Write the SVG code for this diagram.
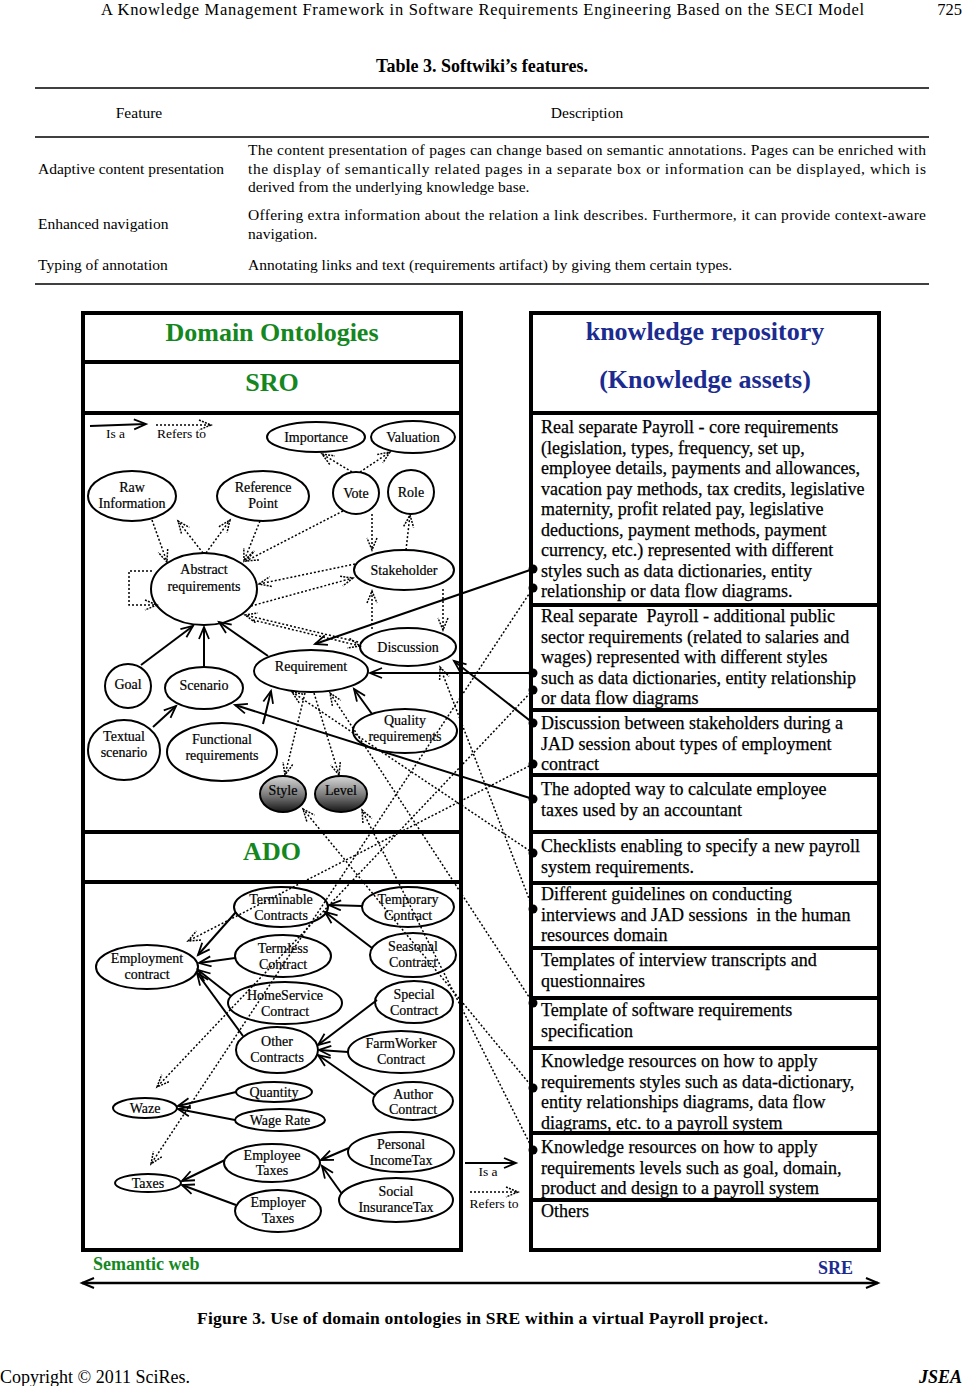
<svg xmlns="http://www.w3.org/2000/svg" width="964" height="1386" viewBox="0 0 964 1386">
<style>
text{font-family:"Liberation Serif","Times New Roman",serif;fill:#000}
.hd{font-size:16.5px}
.tb{font-size:15.5px}
.ttl{font-size:18px;font-weight:bold}
.n ellipse{fill:#fff;stroke:#000;stroke-width:2}
.n text{font-size:14px;text-anchor:middle;stroke:#000;stroke-width:0.2}
.g ellipse{fill:url(#gr);stroke:#000;stroke-width:2}
.g text{font-size:14px;text-anchor:middle;stroke:#000;stroke-width:0.2}
.box{fill:#fff;stroke:#000;stroke-width:4}
.sep{stroke:#000;stroke-width:4}
.gh{font-size:26px;font-weight:bold;fill:#14871e;text-anchor:middle}
.bh{font-size:26px;font-weight:bold;fill:#1b2b8f;text-anchor:middle}
.gs{font-size:18px;font-weight:bold;fill:#14871e}
.bs{font-size:18px;font-weight:bold;fill:#1b2b8f}
.r{font-size:18px;stroke:#000;stroke-width:0.25}
.s{stroke:#000;stroke-width:2;fill:none;marker-end:url(#a)}
.d{stroke:#000;stroke-width:1.5;fill:none;stroke-dasharray:2 2;marker-end:url(#ad)}
.dot{fill:#000}
.lg{font-size:13.5px}
.cap{font-size:17.5px;font-weight:bold}
.ft{font-size:18px}
</style>
<defs>
<linearGradient id="gr" x1="0" y1="0" x2="0" y2="1">
<stop offset="0" stop-color="#d8d8d8"/>
<stop offset="0.55" stop-color="#777"/>
<stop offset="1" stop-color="#151515"/>
</linearGradient>
<marker id="a" markerUnits="userSpaceOnUse" markerWidth="16" markerHeight="14" refX="13" refY="6" orient="auto">
<path d="M1,1 L13,6 L1,11" fill="none" stroke="#000" stroke-width="1.8"/>
</marker>
<marker id="ad" markerUnits="userSpaceOnUse" markerWidth="16" markerHeight="14" refX="13" refY="6" orient="auto">
<path d="M1,1 L13,6 L1,11" fill="none" stroke="#000" stroke-width="1.5" stroke-dasharray="2 1.2"/>
</marker>
<marker id="ab" markerUnits="userSpaceOnUse" markerWidth="16" markerHeight="14" refX="13" refY="6" orient="auto-start-reverse">
<path d="M1,1 L13,6 L1,11" fill="none" stroke="#000" stroke-width="2"/>
</marker>
</defs>
<rect width="964" height="1386" fill="#fff"/>

<!-- page header and table -->
<g id="page-header">
<text class="hd" x="101" y="15" textLength="763">A Knowledge Management Framework in Software Requirements Engineering Based on the SECI Model</text>
<text class="hd" x="962" y="15" text-anchor="end">725</text>
</g>
<g id="table">
<text class="ttl" x="482" y="72" text-anchor="middle">Table 3. Softwiki’s features.</text>
<line x1="35" y1="88" x2="929" y2="88" stroke="#000" stroke-width="1.3"/>
<text class="tb" x="139" y="118" text-anchor="middle">Feature</text>
<text class="tb" x="587" y="118" text-anchor="middle">Description</text>
<line x1="35" y1="137" x2="929" y2="137" stroke="#000" stroke-width="1.3"/>
<text class="tb" x="38" y="174">Adaptive content presentation</text>
<text class="tb" x="248" y="155" textLength="678">The content presentation of pages can change based on semantic annotations. Pages can be enriched with</text>
<text class="tb" x="248" y="174" textLength="678">the display of semantically related pages in a separate box or information can be displayed, which is</text>
<text class="tb" x="248" y="192">derived from the underlying knowledge base.</text>
<text class="tb" x="38" y="229">Enhanced navigation</text>
<text class="tb" x="248" y="220" textLength="678">Offering extra information about the relation a link describes. Furthermore, it can provide context-aware</text>
<text class="tb" x="248" y="239">navigation.</text>
<text class="tb" x="38" y="270">Typing of annotation</text>
<text class="tb" x="248" y="270">Annotating links and text (requirements artifact) by giving them certain types.</text>
<line x1="35" y1="284" x2="929" y2="284" stroke="#000" stroke-width="1.3"/>
</g>

<!-- left panel -->
<g id="left-panel">
<rect class="box" x="83" y="313" width="378" height="937"/>
<line class="sep" x1="83" y1="362" x2="461" y2="362"/>
<line class="sep" x1="83" y1="413" x2="461" y2="413"/>
<line class="sep" x1="83" y1="832" x2="461" y2="832"/>
<line class="sep" x1="83" y1="882" x2="461" y2="882"/>
<text class="gh" x="272" y="341">Domain Ontologies</text>
<text class="gh" x="272" y="391">SRO</text>
<text class="gh" x="272" y="860">ADO</text>
</g>

<!-- right panel -->
<g id="right-panel">
<rect class="box" x="531" y="313" width="348" height="937"/>
<line class="sep" x1="531" y1="413" x2="879" y2="413"/>
<line class="sep" x1="531" y1="605" x2="879" y2="605"/>
<line class="sep" x1="531" y1="710" x2="879" y2="710"/>
<line class="sep" x1="531" y1="775" x2="879" y2="775"/>
<line class="sep" x1="531" y1="832" x2="879" y2="832"/>
<line class="sep" x1="531" y1="883" x2="879" y2="883"/>
<line class="sep" x1="531" y1="948" x2="879" y2="948"/>
<line class="sep" x1="531" y1="998" x2="879" y2="998"/>
<line class="sep" x1="531" y1="1048" x2="879" y2="1048"/>
<line class="sep" x1="531" y1="1133" x2="879" y2="1133"/>
<line class="sep" x1="531" y1="1200" x2="879" y2="1200"/>
<text class="bh" x="705" y="340">knowledge repository</text>
<text class="bh" x="705" y="388">(Knowledge assets)</text>
</g>
<g id="kr-core">
<text class="r" x="541" y="433">Real separate Payroll - core requirements<tspan x="541" dy="20.5">(legislation, types, frequency, set up,</tspan><tspan x="541" dy="20.5">employee details, payments and allowances,</tspan><tspan x="541" dy="20.5">vacation pay methods, tax credits, legislative</tspan><tspan x="541" dy="20.5">maternity, profit related pay, legislative</tspan><tspan x="541" dy="20.5">deductions, payment methods, payment</tspan><tspan x="541" dy="20.5">currency, etc.) represented with different</tspan><tspan x="541" dy="20.5">styles such as data dictionaries, entity</tspan><tspan x="541" dy="20.5">relationship or data flow diagrams.</tspan></text>
</g>
<g id="kr-public">
<text class="r" x="541" y="622">Real separate &#160;Payroll - additional public<tspan x="541" dy="20.5">sector requirements (related to salaries and</tspan><tspan x="541" dy="20.5">wages) represented with different styles</tspan><tspan x="541" dy="20.5">such as data dictionaries, entity relationship</tspan><tspan x="541" dy="20.5">or data flow diagrams</tspan></text>
</g>
<g id="kr-discussion">
<text class="r" x="541" y="729">Discussion between stakeholders during a<tspan x="541" dy="20.5">JAD session about types of employment</tspan><tspan x="541" dy="20.5">contract</tspan></text>
</g>
<g id="kr-taxes">
<text class="r" x="541" y="795">The adopted way to calculate employee<tspan x="541" dy="20.5">taxes used by an accountant</tspan></text>
</g>
<g id="kr-checklists">
<text class="r" x="541" y="852">Checklists enabling to specify a new payroll<tspan x="541" dy="20.5">system requirements.</tspan></text>
</g>
<g id="kr-guidelines">
<text class="r" x="541" y="900">Different guidelines on conducting<tspan x="541" dy="20.5">interviews and JAD sessions &#160;in the human</tspan><tspan x="541" dy="20.5">resources domain</tspan></text>
</g>
<g id="kr-templates">
<text class="r" x="541" y="966">Templates of interview transcripts and<tspan x="541" dy="20.5">questionnaires</tspan></text>
</g>
<g id="kr-srs">
<text class="r" x="541" y="1016">Template of software requirements<tspan x="541" dy="20.5">specification</tspan></text>
</g>
<g id="kr-styles">
<text class="r" x="541" y="1067">Knowledge resources on how to apply<tspan x="541" dy="20.5">requirements styles such as data-dictionary,</tspan><tspan x="541" dy="20.5">entity relationships diagrams, data flow</tspan><tspan x="541" dy="20.5">diagrams, etc. to a payroll system</tspan></text>
</g>
<g id="kr-levels">
<text class="r" x="541" y="1153">Knowledge resources on how to apply<tspan x="541" dy="20.5">requirements levels such as goal, domain,</tspan><tspan x="541" dy="20.5">product and design to a payroll system</tspan></text>
</g>
<g id="kr-others">
<text class="r" x="541" y="1217">Others</text>
</g>

<!-- SRO nodes -->
<g id="importance" class="n"><ellipse cx="316" cy="437" rx="49" ry="15"/><text x="316" y="442">Importance</text></g>
<g id="valuation" class="n"><ellipse cx="413" cy="437" rx="42" ry="16"/><text x="413" y="442">Valuation</text></g>
<g id="raw-information" class="n"><ellipse cx="132" cy="496" rx="44" ry="25"/><text x="132" y="492">Raw</text><text x="132" y="508">Information</text></g>
<g id="reference-point" class="n"><ellipse cx="263" cy="496" rx="46" ry="25"/><text x="263" y="492">Reference</text><text x="263" y="508">Point</text></g>
<g id="vote" class="n"><ellipse cx="356" cy="493" rx="23" ry="21"/><text x="356" y="498">Vote</text></g>
<g id="role" class="n"><ellipse cx="411" cy="492" rx="23" ry="22"/><text x="411" y="497">Role</text></g>
<g id="abstract-requirements" class="n"><ellipse cx="204" cy="589" rx="53" ry="36"/><text x="204" y="574">Abstract</text><text x="204" y="591">requirements</text></g>
<g id="stakeholder" class="n"><ellipse cx="404" cy="570" rx="50" ry="20"/><text x="404" y="575">Stakeholder</text></g>
<g id="discussion" class="n"><ellipse cx="408" cy="647" rx="48" ry="19"/><text x="408" y="652">Discussion</text></g>
<g id="requirement" class="n"><ellipse cx="311" cy="671" rx="57" ry="21"/><text x="311" y="671">Requirement</text></g>
<g id="goal" class="n"><ellipse cx="128" cy="686" rx="23" ry="22"/><text x="128" y="689">Goal</text></g>
<g id="scenario" class="n"><ellipse cx="204" cy="688" rx="39" ry="21"/><text x="204" y="690">Scenario</text></g>
<g id="textual-scenario" class="n"><ellipse cx="124" cy="750" rx="36" ry="30"/><text x="124" y="741">Textual</text><text x="124" y="757">scenario</text></g>
<g id="functional-requirements" class="n"><ellipse cx="222" cy="752" rx="55" ry="29"/><text x="222" y="744">Functional</text><text x="222" y="760">requirements</text></g>
<g id="quality-requirements" class="n"><ellipse cx="405" cy="731" rx="52" ry="22"/><text x="405" y="725">Quality</text><text x="405" y="741">requirements</text></g>
<g id="style" class="g"><ellipse cx="283" cy="794" rx="23" ry="18"/><text x="283" y="795">Style</text></g>
<g id="level" class="g"><ellipse cx="341" cy="794" rx="26" ry="18"/><text x="341" y="795">Level</text></g>

<!-- ADO nodes -->
<g id="employment-contract" class="n"><ellipse cx="147" cy="967" rx="51" ry="22"/><text x="147" y="963">Employment</text><text x="147" y="979">contract</text></g>
<g id="terminable-contracts" class="n"><ellipse cx="281" cy="907" rx="47" ry="20"/><text x="281" y="904">Terminable</text><text x="281" y="920">Contracts</text></g>
<g id="temporary-contract" class="n"><ellipse cx="408" cy="907" rx="46" ry="20"/><text x="408" y="904">Temporary</text><text x="408" y="920">Contract</text></g>
<g id="termless-contract" class="n"><ellipse cx="283" cy="956" rx="48" ry="21"/><text x="283" y="953">Termless</text><text x="283" y="969">Contract</text></g>
<g id="seasonal-contract" class="n"><ellipse cx="413" cy="955" rx="43" ry="22"/><text x="413" y="951">Seasonal</text><text x="413" y="967">Contract</text></g>
<g id="homeservice-contract" class="n"><ellipse cx="285" cy="1003" rx="57" ry="21"/><text x="285" y="1000">HomeService</text><text x="285" y="1016">Contract</text></g>
<g id="special-contract" class="n"><ellipse cx="414" cy="1002" rx="39" ry="21"/><text x="414" y="999">Special</text><text x="414" y="1015">Contract</text></g>
<g id="other-contracts" class="n"><ellipse cx="277" cy="1050" rx="41" ry="23"/><text x="277" y="1046">Other</text><text x="277" y="1062">Contracts</text></g>
<g id="farmworker-contract" class="n"><ellipse cx="401" cy="1052" rx="53" ry="21"/><text x="401" y="1048">FarmWorker</text><text x="401" y="1064">Contract</text></g>
<g id="author-contract" class="n"><ellipse cx="413" cy="1101" rx="40" ry="19"/><text x="413" y="1099">Author</text><text x="413" y="1114">Contract</text></g>
<g id="quantity" class="n"><ellipse cx="274" cy="1092" rx="38" ry="10"/><text x="274" y="1097">Quantity</text></g>
<g id="wage-rate" class="n"><ellipse cx="280" cy="1120" rx="45" ry="11"/><text x="280" y="1125">Wage Rate</text></g>
<g id="wage" class="n"><ellipse cx="145" cy="1108" rx="32" ry="10"/><text x="145" y="1113">Waze</text></g>
<g id="employee-taxes" class="n"><ellipse cx="272" cy="1163" rx="48" ry="19"/><text x="272" y="1160">Employee</text><text x="272" y="1175">Taxes</text></g>
<g id="personal-incometax" class="n"><ellipse cx="401" cy="1152" rx="53" ry="20"/><text x="401" y="1149">Personal</text><text x="401" y="1165">IncomeTax</text></g>
<g id="taxes" class="n"><ellipse cx="148" cy="1183" rx="33" ry="9"/><text x="148" y="1188">Taxes</text></g>
<g id="employer-taxes" class="n"><ellipse cx="278" cy="1211" rx="43" ry="21"/><text x="278" y="1207">Employer</text><text x="278" y="1223">Taxes</text></g>
<g id="social-insurancetax" class="n"><ellipse cx="396" cy="1200" rx="57" ry="22"/><text x="396" y="1196">Social</text><text x="396" y="1212">InsuranceTax</text></g>

<!-- legends -->
<g id="legend-sro">
<line class="s" x1="90" y1="426" x2="146" y2="424"/>
<line class="d" x1="156" y1="425" x2="211" y2="425"/>
<text class="lg" x="106" y="438">Is a</text>
<text class="lg" x="157" y="438">Refers to</text>
</g>
<g id="legend-ado">
<line class="s" x1="465" y1="1163" x2="516" y2="1163"/>
<line class="d" x1="470" y1="1192" x2="518" y2="1192"/>
<text class="lg" x="488" y="1176" text-anchor="middle">Is a</text>
<text class="lg" x="494" y="1208" text-anchor="middle">Refers to</text>
</g>

<!-- connectors -->
<g id="connectors">
<!-- SRO is-a -->
<line class="s" x1="141" y1="665" x2="193" y2="626"/>
<line class="s" x1="204" y1="667" x2="204" y2="627"/>
<line class="s" x1="268" y1="656" x2="219" y2="622"/>
<line class="s" x1="153" y1="727" x2="176" y2="706"/>
<line class="s" x1="263" y1="724" x2="271" y2="691"/>
<line class="s" x1="372" y1="714" x2="354" y2="689"/>
<!-- SRO refers-to -->
<line class="d" x1="352" y1="472" x2="322" y2="454"/>
<line class="d" x1="360" y1="472" x2="390" y2="452"/>
<line class="d" x1="203" y1="553" x2="178" y2="521"/>
<line class="d" x1="206" y1="553" x2="230" y2="520"/>
<line class="d" x1="152" y1="520" x2="167" y2="562"/>
<line class="d" x1="260" y1="521" x2="244" y2="561"/>
<line class="d" x1="343" y1="511" x2="246" y2="561"/>
<line class="d" x1="372" y1="514" x2="372" y2="550"/>
<line class="d" x1="406" y1="550" x2="410" y2="515"/>
<line class="d" x1="355" y1="564" x2="259" y2="584"/>
<line class="d" x1="251" y1="606" x2="353" y2="578"/>
<path class="d" d="M152,571 L129,571 L129,605 L157,605"/>
<line class="d" x1="362" y1="643" x2="245" y2="615"/>
<line class="d" x1="253" y1="620" x2="360" y2="646"/>
<line class="d" x1="443" y1="589" x2="443" y2="630"/>
<line class="d" x1="372" y1="629" x2="372" y2="591"/>
<line class="d" x1="305" y1="693" x2="285" y2="775"/>
<line class="d" x1="314" y1="693" x2="339" y2="775"/>
<!-- repository links -->
<line class="s" x1="533" y1="569" x2="315" y2="644"/>
<line class="s" x1="533" y1="673" x2="370" y2="673"/>
<line class="s" x1="533" y1="723" x2="454" y2="661"/>
<line class="s" x1="533" y1="799" x2="235" y2="705"/>
<line class="d" x1="533" y1="588" x2="151" y2="1164"/>
<line class="d" x1="533" y1="690" x2="157" y2="1087"/>
<line class="d" x1="533" y1="764" x2="188" y2="941"/>
<line class="d" x1="533" y1="853" x2="292" y2="692"/>
<line class="d" x1="533" y1="909" x2="440" y2="667"/>
<line class="d" x1="533" y1="1003" x2="330" y2="693"/>
<line class="d" x1="533" y1="1088" x2="303" y2="809"/>
<line class="d" x1="533" y1="1150" x2="362" y2="810"/>
<!-- ADO is-a -->
<line class="s" x1="236" y1="912" x2="198" y2="955"/>
<line class="s" x1="235" y1="958" x2="199" y2="963"/>
<line class="s" x1="231" y1="996" x2="198" y2="970"/>
<line class="s" x1="243" y1="1036" x2="197" y2="973"/>
<line class="s" x1="362" y1="906" x2="329" y2="905"/>
<line class="s" x1="372" y1="948" x2="325" y2="912"/>
<line class="s" x1="377" y1="1000" x2="318" y2="1045"/>
<line class="s" x1="348" y1="1052" x2="319" y2="1050"/>
<line class="s" x1="375" y1="1095" x2="318" y2="1055"/>
<line class="s" x1="236" y1="1092" x2="178" y2="1106"/>
<line class="s" x1="235" y1="1120" x2="178" y2="1109"/>
<line class="s" x1="225" y1="1160" x2="182" y2="1181"/>
<line class="s" x1="236" y1="1205" x2="182" y2="1185"/>
<line class="s" x1="349" y1="1148" x2="321" y2="1160"/>
<line class="s" x1="342" y1="1194" x2="322" y2="1166"/>
<!-- dots -->
<circle class="dot" cx="533" cy="569" r="4.5"/>
<circle class="dot" cx="533" cy="588" r="4.5"/>
<circle class="dot" cx="533" cy="673" r="4.5"/>
<circle class="dot" cx="533" cy="690" r="4.5"/>
<circle class="dot" cx="533" cy="723" r="4.5"/>
<circle class="dot" cx="533" cy="764" r="4.5"/>
<circle class="dot" cx="533" cy="799" r="4.5"/>
<circle class="dot" cx="533" cy="853" r="4.5"/>
<circle class="dot" cx="533" cy="909" r="4.5"/>
<circle class="dot" cx="533" cy="1003" r="4.5"/>
<circle class="dot" cx="533" cy="1088" r="4.5"/>
<circle class="dot" cx="533" cy="1150" r="4.5"/>
<!-- bottom axis -->
<line x1="82" y1="1283" x2="878" y2="1283" stroke="#000" stroke-width="2.5" marker-start="url(#ab)" marker-end="url(#ab)"/>
</g>

<g id="axis-labels">
<text class="gs" x="93" y="1270">Semantic web</text>
<text class="bs" x="818" y="1274">SRE</text>
</g>
<g id="caption">
<text class="cap" x="197" y="1324" textLength="571">Figure 3. Use of domain ontologies in SRE within a virtual Payroll project.</text>
</g>
<g id="footer">
<text class="ft" x="0" y="1383">Copyright © 2011 SciRes.</text>
<text class="ft" x="962" y="1383" font-weight="bold" font-style="italic" text-anchor="end">JSEA</text>
</g>
</svg>
